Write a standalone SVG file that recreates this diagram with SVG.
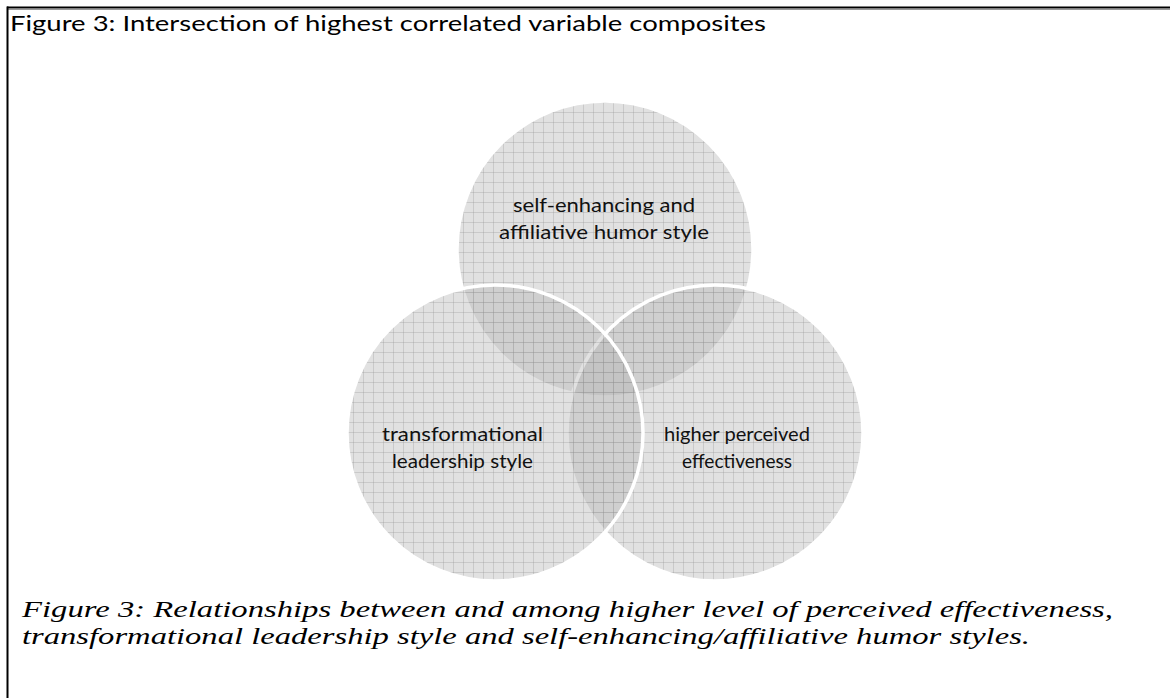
<svg xmlns="http://www.w3.org/2000/svg" width="1170" height="698" viewBox="0 0 1170 698">
  <defs>
    <pattern id="grid" patternUnits="userSpaceOnUse" x="3" y="2" width="10" height="10">
      <rect x="0" y="0" width="10" height="10" fill="#b4b4b4" fill-opacity="0.4"/>
      <path d="M0.5 0 V10 M0 0.5 H10" stroke="#8a8a8a" stroke-opacity="0.28" stroke-width="1" fill="none"/>
    </pattern>
    <style>
      .circ { fill: url(#grid); stroke: #ffffff; stroke-width: 3.5; }
      .lbl { font-family: Lato, "Open Sans", "Liberation Sans", sans-serif; font-size: 20px; fill: #111111; }
      .title { font-family: Lato, "Open Sans", "Liberation Sans", sans-serif; font-size: 21px; fill: #000000; }
      .cap { font-family: "Liberation Serif", "Times New Roman", serif; font-style: italic; font-size: 24px; fill: #000000; }
      .frame { stroke: #000000; stroke-width: 2; fill: none; }
    </style>
  </defs>
  <rect x="0" y="0" width="1170" height="698" fill="#ffffff"/>
  <g id="frame">
    <line class="frame" x1="7" y1="7.5" x2="1170" y2="7.5"/>
    <line x1="7" y1="9.5" x2="1170" y2="9.5" stroke="#9a9a9a" stroke-width="1"/>
    <line class="frame" x1="7.5" y1="6.5" x2="7.5" y2="698"/>
  </g>
  <g id="title">
    <text class="title" x="10" y="31" textLength="756" lengthAdjust="spacingAndGlyphs">Figure 3: Intersection of highest correlated variable composites</text>
  </g>
  <g id="node-top">
    <circle class="circ" cx="605" cy="249" r="148"/>
  </g>
  <g id="node-right">
    <circle class="circ" cx="715" cy="433" r="148"/>
  </g>
  <g id="node-left">
    <circle class="circ" cx="495" cy="433" r="148"/>
  </g>
  <g id="labels">
    <text class="lbl" x="513" y="212" textLength="182" lengthAdjust="spacingAndGlyphs">self-enhancing and</text>
    <text class="lbl" x="499" y="239" textLength="210" lengthAdjust="spacingAndGlyphs">affiliative humor style</text>
    <text class="lbl" x="382" y="441" textLength="161" lengthAdjust="spacingAndGlyphs">transformational</text>
    <text class="lbl" x="392" y="468" textLength="141" lengthAdjust="spacingAndGlyphs">leadership style</text>
    <text class="lbl" x="664" y="441" textLength="146" lengthAdjust="spacingAndGlyphs">higher perceived</text>
    <text class="lbl" x="682" y="468" textLength="110" lengthAdjust="spacingAndGlyphs">effectiveness</text>
  </g>
  <g id="connectors"/>
  <g id="caption">
    <text class="cap" x="22" y="617" textLength="1091" lengthAdjust="spacingAndGlyphs">Figure 3: Relationships between and among higher level of perceived effectiveness,</text>
    <text class="cap" x="22" y="644" textLength="1008" lengthAdjust="spacingAndGlyphs">transformational leadership style and self-enhancing/affiliative humor styles.</text>
  </g>
</svg>
